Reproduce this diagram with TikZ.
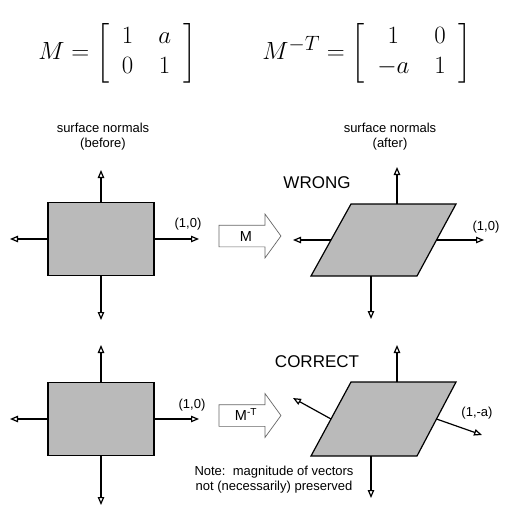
\documentclass[tikz,border=0pt]{standalone}
\usepackage{amsmath}
\usepackage{fontspec}
\setsansfont{Liberation Sans}
\usetikzlibrary{arrows.meta, positioning, shapes.geometric, shapes.arrows}
\definecolor{facegray}{RGB}{186,186,186}

\begin{document}
\begin{tikzpicture}[
  x=1pt, y=-1pt,
  face/.style={draw, fill=facegray, line width=1.2pt, inner sep=0pt, minimum width=106pt, minimum height=73pt},
  slant/.style={draw, fill=facegray, line width=1.2pt, line join=miter},
  normal/.style={-{Triangle[open, length=8pt, width=6.5pt]}, line width=1.2pt},
  xform/.style={single arrow, draw=black!60, line width=0.7pt, fill=white, single arrow head extend=11pt, single arrow tip angle=108, minimum height=62pt, text height=10pt, text depth=0pt, inner ysep=5.5pt, font=\sffamily\fontsize{14.5}{16}\selectfont},
  lbl/.style={font=\sffamily\fontsize{13}{15}\selectfont, align=center, inner sep=0pt},
  big/.style={font=\sffamily\fontsize{17}{20}\selectfont, inner sep=0pt},
  eq/.style={font=\fontsize{27.5}{30}\selectfont, inner sep=0pt}
]
\useasboundingbox (0,0) rectangle (513,513);

% the two matrices
\node[eq] (eqm) at (117.5,53) {$M = \left[\setlength{\arraycolsep}{12.5pt}\begin{array}{cc} 1 & a \\ 0 & 1 \end{array}\right]$};
\node[eq] (eqt) at (367,53) {$M^{-T} = \left[\setlength{\arraycolsep}{12.5pt}\begin{array}{cc} 1 & 0 \\ -a & 1 \end{array}\right]$};

% before (top)
\node[face] (r1) at (101,239) {};
\coordinate (r1u) at (101,170);
\coordinate (r1d) at (101,320);
\coordinate (r1l) at (10,239);
\coordinate (r1r) at (199,239);
\draw[normal] (r1.north) -- (r1u);
\draw[normal] (r1.south) -- (r1d);
\draw[normal] (r1.west) -- (r1l);
\draw[normal] (r1.east) -- (r1r);
\node[lbl] (n1) at (103,137) {surface normals\\(before)};
\node[lbl] (x1) at (188,224) {(1,0)};

\node[xform] (m1) at (246,236) {M};

% after, wrong
\draw[slant] (311,276) -- (417,276) -- (456,204) -- (351,204) -- cycle;
\coordinate (p1t) at (397,204);
\coordinate (p1b) at (371,276);
\coordinate (p1w) at (331,240);
\coordinate (p1e) at (436.5,240);
\coordinate (p1u) at (397,167);
\coordinate (p1d) at (371,319);
\coordinate (p1l) at (293,240);
\coordinate (p1r) at (484,240);
\draw[normal] (p1t) -- (p1u);
\draw[normal] (p1b) -- (p1d);
\draw[normal] (p1w) -- (p1l);
\draw[normal] (p1e) -- (p1r);
\node[lbl] (n2) at (390,137) {surface normals\\(after)};
\node[big] (w1) at (317,183) {WRONG};
\node[lbl] (x2) at (486,227) {(1,0)};

% before (bottom)
\node[face] (r2) at (101,419) {};
\coordinate (r2u) at (101,345);
\coordinate (r2d) at (101,505);
\coordinate (r2l) at (10,419);
\coordinate (r2r) at (199,419);
\draw[normal] (r2.north) -- (r2u);
\draw[normal] (r2.south) -- (r2d);
\draw[normal] (r2.west) -- (r2l);
\draw[normal] (r2.east) -- (r2r);
\node[lbl] (x3) at (192,405) {(1,0)};

\node[xform] (m2) at (246,415.5) {M\textsuperscript{-T}};

% after, correct
\draw[slant] (311,456) -- (417,456) -- (456,382) -- (351,382) -- cycle;
\coordinate (p2t) at (397,382);
\coordinate (p2b) at (371,456);
\coordinate (p2w) at (331,419);
\coordinate (p2e) at (436.5,419);
\coordinate (p2u) at (397,345);
\coordinate (p2d) at (371,498);
\coordinate (p2l) at (293,398);
\coordinate (p2r) at (482,435);
\draw[normal] (p2t) -- (p2u);
\draw[normal] (p2b) -- (p2d);
\draw[normal] (p2w) -- (p2l);
\draw[normal] (p2e) -- (p2r);
\node[big] (c1) at (317,362) {CORRECT};
\node[lbl] (x4) at (477,413) {(1,-a)};
\node[lbl] (nt) at (274,480) {Note:\ \ magnitude of vectors\\not (necessarily) preserved};
\end{tikzpicture}
\end{document}
